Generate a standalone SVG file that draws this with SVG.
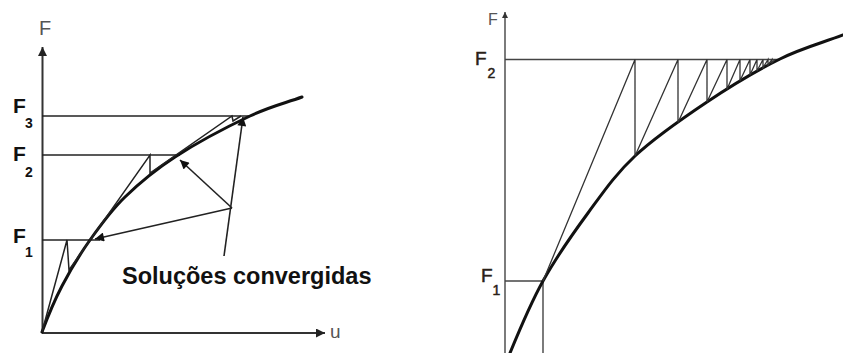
<svg xmlns="http://www.w3.org/2000/svg" width="843" height="353" viewBox="0 0 843 353">
  <style>
    .axis { stroke: #333; stroke-width: 2; fill: none; }
    .axisR { stroke: #444; stroke-width: 1.4; fill: none; }
    .curve { stroke: #111; stroke-width: 3; fill: none; stroke-linecap: round; }
    .thin { stroke: #222; stroke-width: 1.5; fill: none; }
    .thinR { stroke: #333; stroke-width: 1.3; fill: none; }
    .arrow { stroke: #222; stroke-width: 1.6; fill: none; }
    .lbl { font-family: "Liberation Sans", Arial, sans-serif; fill: #111; font-weight: bold; }
    .lblR { font-family: "Liberation Sans", Arial, sans-serif; fill: #2a2118; stroke: #2a2118; stroke-width: 0.5; }
    .grey { font-family: "Liberation Sans", Arial, sans-serif; fill: #555; }
  </style>
  <defs>
    <marker id="ah" viewBox="0 0 10 10" refX="10" refY="5" markerUnits="userSpaceOnUse" markerWidth="14" markerHeight="9" orient="auto">
      <path d="M0,0 L10,5 L0,10 z" fill="#111"/>
    </marker>
    <marker id="ahAxis" viewBox="0 0 10 10" refX="10" refY="5" markerUnits="userSpaceOnUse" markerWidth="16" markerHeight="9" orient="auto">
      <path d="M0,0 L10,5 L0,10 z" fill="#222"/>
    </marker>
    <marker id="ahSmall" viewBox="0 0 10 10" refX="10" refY="5" markerUnits="userSpaceOnUse" markerWidth="9" markerHeight="6" orient="auto">
      <path d="M0,0 L10,5 L0,10 z" fill="#333"/>
    </marker>
  </defs>
  <rect width="843" height="353" fill="#fff"/>

  <!-- LEFT DIAGRAM -->
  <g id="left-axes">
    <line class="axis" x1="42.5" y1="333" x2="42.5" y2="47" marker-end="url(#ahAxis)"/>
    <line class="axis" x1="42" y1="333" x2="325" y2="333" marker-end="url(#ahAxis)"/>
    <text class="grey" x="39" y="35" font-size="20">F</text>
    <text class="grey" x="330" y="338" font-size="19">u</text>
  </g>
  <g id="left-levels">
    <line class="thin" x1="42" y1="116" x2="250" y2="116"/>
    <line class="thin" x1="42" y1="155" x2="180" y2="155"/>
    <line class="thin" x1="42" y1="240" x2="100" y2="240"/>
    <text class="lbl" x="13" y="113" font-size="21">F</text>
    <text class="lbl" x="25" y="128" font-size="14">3</text>
    <text class="lbl" x="13" y="161" font-size="21">F</text>
    <text class="lbl" x="25" y="177" font-size="14">2</text>
    <text class="lbl" x="13" y="243" font-size="21">F</text>
    <text class="lbl" x="25" y="257" font-size="14">1</text>
  </g>
  <g id="left-curve">
    <path class="curve" d="M42,332 C48,316 54,301.3 62,286 C70,270.7 79.5,254.8 90,240 C100.5,225.2 110.8,210.8 125,197 C139.2,183.2 154.2,170.5 175,157 C195.8,143.5 228.8,126 250,116 C271.2,106 284.7,103.3 302,97"/>
  </g>
  <g id="left-iterations">
    <polyline class="thin" points="42,332 67,240 69,270 150,155 150,173 232,116 233,121 241,116"/>
  </g>
  <g id="left-connectors">
    <line class="arrow" x1="232" y1="208" x2="95" y2="239" marker-end="url(#ah)"/>
    <line class="arrow" x1="232" y1="208" x2="180" y2="160" marker-end="url(#ah)"/>
    <line class="arrow" x1="224" y1="256" x2="243" y2="117" marker-end="url(#ah)"/>
  </g>
  <g id="left-label">
    <text class="lbl" x="122" y="284" font-size="23.5">Soluções convergidas</text>
  </g>

  <!-- RIGHT DIAGRAM -->
  <g id="right-axes">
    <line class="axisR" x1="505" y1="353" x2="505" y2="12" marker-end="url(#ahSmall)"/>
    <text class="grey" x="488" y="25" font-size="16">F</text>
  </g>
  <g id="right-levels">
    <line class="axisR" x1="505" y1="59.5" x2="780" y2="59.5"/>
    <line class="axisR" x1="505" y1="281" x2="543" y2="281"/>
    <line class="axisR" x1="543" y1="281" x2="543" y2="353"/>
    <text class="lblR" x="475" y="65" font-size="19">F</text>
    <text class="lblR" x="487.5" y="77.5" font-size="14">2</text>
    <text class="lblR" x="481" y="282" font-size="19">F</text>
    <text class="lblR" x="492.5" y="295" font-size="14">1</text>
  </g>
  <g id="right-curve">
    <path class="curve" d="M510,353 C520.2,328.2 530,304.3 543,281 C556,257.7 572.7,233.8 588,213 C603.3,192.2 615.2,174.5 635,156 C654.8,137.5 682.8,118.2 707,102 C731.2,85.8 757.3,70.2 780,59 C802.7,47.8 822,43 843,35"/>
  </g>
  <g id="right-iterations">
    <polyline class="thinR" points="543,281 635,59.5 635,156 678,59.5 678,122.5 707,59.5 707,102 727,59.5 727,89.3 740,59.5 740,80.8 750,59.5 750,75 757,59.5 757,71 763,59.5 763,67.8 768,59.5 768,65 772,59.5 772,62.7 775,59.5"/>
  </g>
</svg>
